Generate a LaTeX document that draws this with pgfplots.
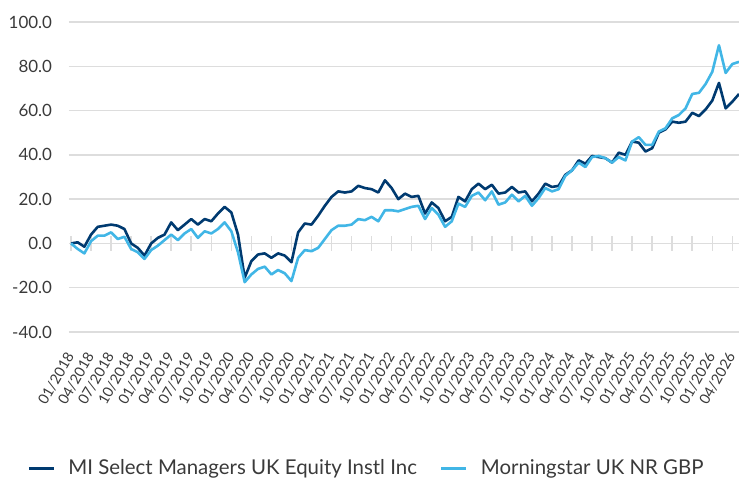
\documentclass[border=0pt]{standalone}
\usepackage{pgfplots}
\pgfplotsset{compat=1.18}
\usepackage{pgfplotstable}
\usepackage{fontspec}
\setmainfont{Lato}
\definecolor{navy}{HTML}{003A70}
\definecolor{lblue}{HTML}{41B6E6}
\definecolor{gridc}{HTML}{DDDDDD}
\definecolor{txt}{HTML}{3A3A3A}

\pgfplotstableread{
i fund bench
0 0.0 0.0
1 0.5 -2.5
2 -1.5 -4.5
3 4 1
4 7.5 3.5
5 8 3.5
6 8.5 5
7 8 2
8 6.5 3
9 0 -2.5
10 -2 -4
11 -5.5 -7
12 0 -3
13 2.5 -1
14 4 1.5
15 9.5 4
16 6 1.5
17 8.5 4.5
18 11 6.5
19 8.5 2.5
20 11 5.5
21 10 4.5
22 13.5 6.5
23 16.5 9.5
24 14 5.5
25 4 -4
26 -15.5 -17.5
27 -8 -14
28 -5 -11.5
29 -4.5 -10.5
30 -6.5 -14
31 -4.5 -12
32 -5.5 -13.5
33 -8.5 -17
34 5 -6.5
35 9 -3
36 8.5 -3.5
37 12.5 -2
38 17 2
39 21 6
40 23.5 8
41 23 8
42 23.5 8.5
43 26 11
44 25 10.5
45 24.5 12
46 23 10
47 28.5 15
48 25 15
49 20 14.5
50 22.5 15.5
51 21 16.5
52 21.5 17
53 13.5 11
54 18.5 16
55 16 13
56 10 7.5
57 12 10
58 21 18
59 19 16.5
60 24.5 21.5
61 27 23
62 24.5 19.5
63 26.5 23.5
64 22.5 17.5
65 23 18.5
66 25.5 22
67 23 19
68 23.5 21.5
69 19 17
70 22.5 20.5
71 27 25
72 25.5 23.5
73 26 24.5
74 31 30.5
75 33 33
76 37.5 36.5
77 36 34.5
78 39.5 39
79 39 39.5
80 38.5 38.5
81 36.5 36.5
82 41 39
83 40 37.5
84 46 46
85 45.5 48
86 41.5 44.5
87 43 44.5
88 50 50.5
89 51.5 52
90 55 56.5
91 54.5 58
92 55 61
93 59 67.5
94 57.5 68
95 60.5 72
96 64.5 77.5
97 72.5 89.5
98 61 77
99 64 81
100 67.5 82
}\datatable

\begin{document}
\begin{tikzpicture}
\begin{axis}[
  name=ax,
  scale only axis,
  width=670bp, height=310bp,
  xmin=-0.3, xmax=100, ymin=-40, ymax=100,
  axis x line=middle, axis y line=left,
  x axis line style={-, draw=gridc, line width=1.3bp},
  y axis line style={draw=none},
  ytick={-40,-20,...,100},
  ymajorgrids,
  grid style={gridc, line width=1.3bp},
  ytick style={draw=none},
  yticklabel={\pgfmathprintnumber[fixed, fixed zerofill, precision=1]{\tick}},
  /pgf/number format/assume math mode=true,
  yticklabel style={font=\fontsize{17}{20}\selectfont, text=txt, xshift=-6bp},
  xtick={0,3,...,99},
  xticklabels={01/2018,04/2018,07/2018,10/2018,01/2019,04/2019,07/2019,10/2019,01/2020,04/2020,07/2020,10/2020,01/2021,04/2021,07/2021,10/2021,01/2022,04/2022,07/2022,10/2022,01/2023,04/2023,07/2023,10/2023,01/2024,04/2024,07/2024,10/2024,01/2025,04/2025,07/2025,10/2025,01/2026,04/2026},
  xtick align=center,
  major tick length=15bp,
  xtick style={draw=gridc, line width=1.5bp},
  xticklabel shift=100bp,
  xticklabel style={font=\fontsize{14.5}{16}\selectfont, text=txt, xshift=1bp, rotate=60, anchor=east},
  legend columns=2,
  legend style={at={(0.444,-0.439)}, anchor=center, draw=none, fill=none,
    font=\fontsize{20.5}{23}\selectfont, text=txt,
    /tikz/every odd column/.append style={column sep=11bp},
    /tikz/every even column/.append style={column sep=21bp}},
  legend image code/.code={\draw[#1, line width=3bp] (0bp,0bp) -- (25bp,0bp);},
  clip=false,
]
\addplot[navy, line width=2.6bp, line join=round] table[x=i, y=fund] {\datatable};
\addlegendentry{MI Select Managers UK Equity Instl Inc}
\addplot[lblue, line width=2.6bp, line join=round] table[x=i, y=bench] {\datatable};
\addlegendentry{Morningstar UK NR GBP}
\end{axis}
\pgfresetboundingbox
\path (-69bp,-147bp) rectangle (670bp,332bp);
\end{tikzpicture}
\end{document}
